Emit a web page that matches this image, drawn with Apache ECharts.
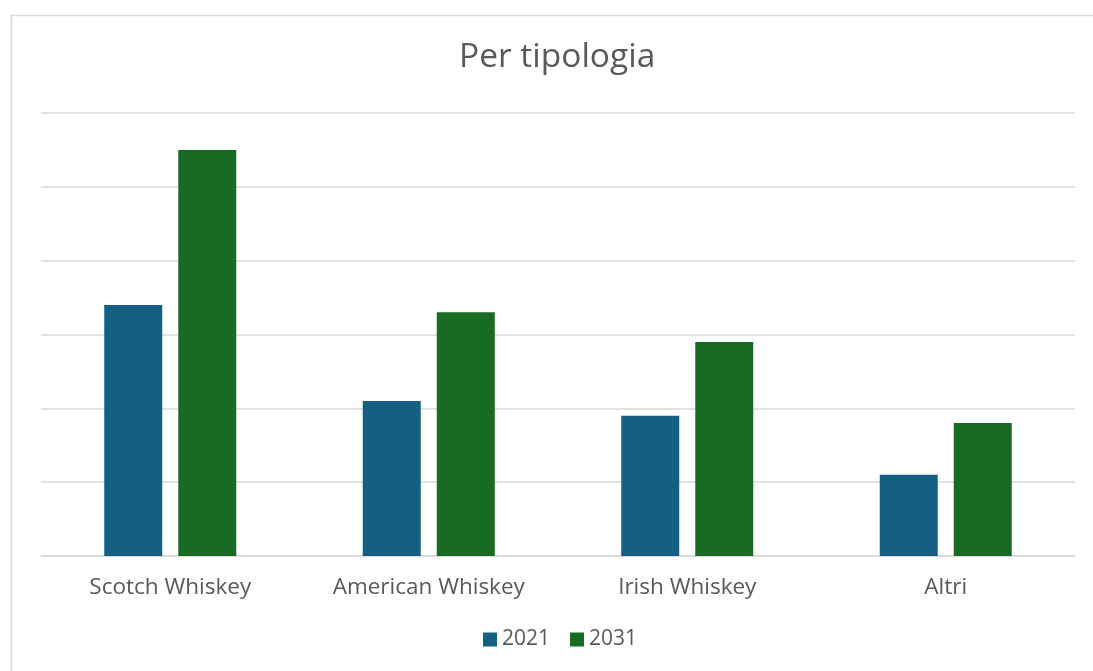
<!DOCTYPE html>
<html>
<head>
<meta charset="utf-8">
<script src="https://cdn.jsdelivr.net/npm/echarts@6/dist/echarts.min.js"></script>
<style>
html,body{margin:0;padding:0;background:#fff;}
#c{width:1093px;height:671px;}
</style>
</head>
<body>
<div id="c"></div>
<script>
const categories = ['Scotch Whiskey', 'American Whiskey', 'Irish Whiskey', 'Altri'];
const seriesNames = ['2021', '2031'];
const values2021 = [3.4, 2.1, 1.9, 1.1];
const values2031 = [5.5, 3.3, 2.9, 1.8];
const titleText = 'Per tipologia';

const FONT = 'Open Sans';
const chart = echarts.init(document.getElementById('c'), null, {renderer: 'canvas'});
chart.setOption({
  animation: false,
  backgroundColor: '#ffffff',
  graphic: [{
    type: 'rect',
    shape: {x: 11.5, y: 15.5, width: 1200, height: 800},
    style: {fill: 'none', stroke: '#d9d9d9', lineWidth: 1.5},
    silent: true, z: -1
  }],
  title: {
    text: titleText,
    left: 459,
    top: 40,
    padding: 0,
    textStyle: {fontFamily: FONT, fontSize: 33.5, fontWeight: 'normal', color: '#595959'}
  },
  legend: {
    data: seriesNames,
    bottom: 21,
    left: 483,
    padding: 0,
    itemWidth: 14,
    itemHeight: 14,
    itemGap: 20,
    icon: 'rect',
    textStyle: {fontFamily: FONT, fontSize: 21, color: '#595959'}
  },
  grid: {left: 41, right: 18, top: 113, bottom: 115, containLabel: false},
  xAxis: {
    type: 'category',
    data: categories,
    axisLine: {lineStyle: {color: '#d9d9d9', width: 1.5}},
    axisTick: {show: false},
    axisLabel: {fontFamily: FONT, fontSize: 22.5, color: '#595959', margin: 20}
  },
  yAxis: {
    type: 'value',
    min: 0, max: 6, interval: 1,
    axisLabel: {show: false},
    axisLine: {show: false},
    axisTick: {show: false},
    splitLine: {lineStyle: {color: '#d9d9d9', width: 1.5}}
  },
  series: [
    {name: seriesNames[0], type: 'bar', data: values2021, barWidth: 58, barGap: '27.6%',
     itemStyle: {color: '#156082'}},
    {name: seriesNames[1], type: 'bar', data: values2031, barWidth: 58, barGap: '27.6%',
     itemStyle: {color: '#196B24'}}
  ]
});
</script>
</body>
</html>
